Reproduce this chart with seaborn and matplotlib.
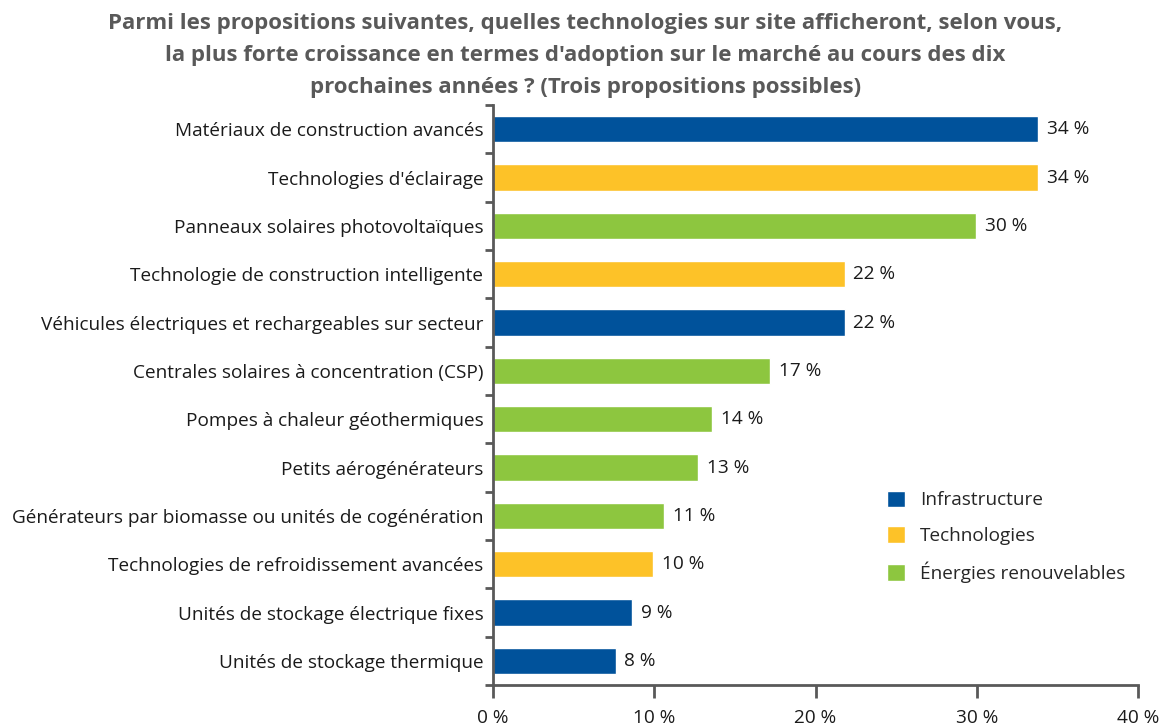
import matplotlib
matplotlib.use("Agg")
import matplotlib.pyplot as plt
import seaborn as sns
import pandas as pd
import numpy as np
from matplotlib.ticker import FixedLocator

categories = [
    "Matériaux de construction avancés",
    "Technologies d'éclairage",
    "Panneaux solaires photovoltaïques",
    "Technologie de construction intelligente",
    "Véhicules électriques et rechargeables sur secteur",
    "Centrales solaires à concentration (CSP)",
    "Pompes à chaleur géothermiques",
    "Petits aérogénérateurs",
    "Générateurs par biomasse ou unités de cogénération",
    "Technologies de refroidissement avancées",
    "Unités de stockage électrique fixes",
    "Unités de stockage thermique",
]
values = [33.8, 33.8, 29.95, 21.8, 21.8, 17.2, 13.6, 12.7, 10.6, 9.9, 8.6, 7.6]
labels = ["34 %", "34 %", "30 %", "22 %", "22 %", "17 %", "14 %", "13 %", "11 %", "10 %", "9 %", "8 %"]
groups = ["Infrastructure", "Technologies", "Énergies renouvelables", "Technologies",
          "Infrastructure", "Énergies renouvelables", "Énergies renouvelables",
          "Énergies renouvelables", "Énergies renouvelables", "Technologies",
          "Infrastructure", "Infrastructure"]
group_order = ["Infrastructure", "Technologies", "Énergies renouvelables"]
palette = {"Infrastructure": "#00529B", "Technologies": "#FDC228", "Énergies renouvelables": "#8DC63F"}
xticks = [0, 10, 20, 30, 40]
xtick_labels = ["0 %", "10 %", "20 %", "30 %", "40 %"]
title = ("Parmi les propositions suivantes, quelles technologies sur site afficheront, selon vous,\n"
         "la plus forte croissance en termes d'adoption sur le marché au cours des dix\n"
         "prochaines années ? (Trois propositions possibles)")

sns.set_style("white")
plt.rcParams['font.family'] = ['Open Sans', 'DejaVu Sans']

df = pd.DataFrame({"cat": categories, "val": values, "grp": groups})

FS = 13.7

fig = plt.figure(figsize=(11.71, 7.25), dpi=100)
ax = fig.add_axes([493/1171, 1-685/725, (1138-493)/1171, (685-105)/725])
sns.barplot(data=df, y="cat", x="val", hue="grp", hue_order=group_order, palette=palette,
            order=categories, orient="h", dodge=False, width=0.55, ax=ax, saturation=1)

ax.set_xlim(0, 40)
ax.set_ylim(len(categories) - 0.5, -0.5)
ax.set_xlabel("")
ax.set_ylabel("")
ax.set_xticks(xticks)
ax.set_xticklabels(xtick_labels, fontsize=FS, color="#1a1a1a")
ax.tick_params(axis="x", bottom=True, direction="out", length=9, width=2, color="#595959", pad=8)
ax.tick_params(axis="y", which="major", left=False, length=0, pad=7, labelsize=FS, labelcolor="#1a1a1a")
ax.yaxis.set_minor_locator(FixedLocator(np.arange(-0.5, len(categories), 1.0)))
ax.tick_params(axis="y", which="minor", left=True, direction="out", length=6, width=2, color="#595959")

for s in ["top", "right"]:
    ax.spines[s].set_visible(False)
for s in ["left", "bottom"]:
    ax.spines[s].set_color("#595959")
    ax.spines[s].set_linewidth(2)

for i, (v, lab) in enumerate(zip(values, labels)):
    ax.text(v + 0.55, i, lab, va="center", ha="left", fontsize=FS, color="#1a1a1a")

handles, hl = ax.get_legend_handles_labels()
ax.legend(handles, hl, loc="upper left", bbox_to_anchor=((879-493)/645, (685-483)/580),
          frameon=False, fontsize=FS, handlelength=0.95, handleheight=0.95,
          labelspacing=0.88, handletextpad=0.8, borderaxespad=0)

fig.text(0.5, 0.982, title, ha="center", va="top", fontsize=16, fontweight="bold",
         color="#595959", linespacing=1.68)

fig.savefig("out.png", dpi=100)
